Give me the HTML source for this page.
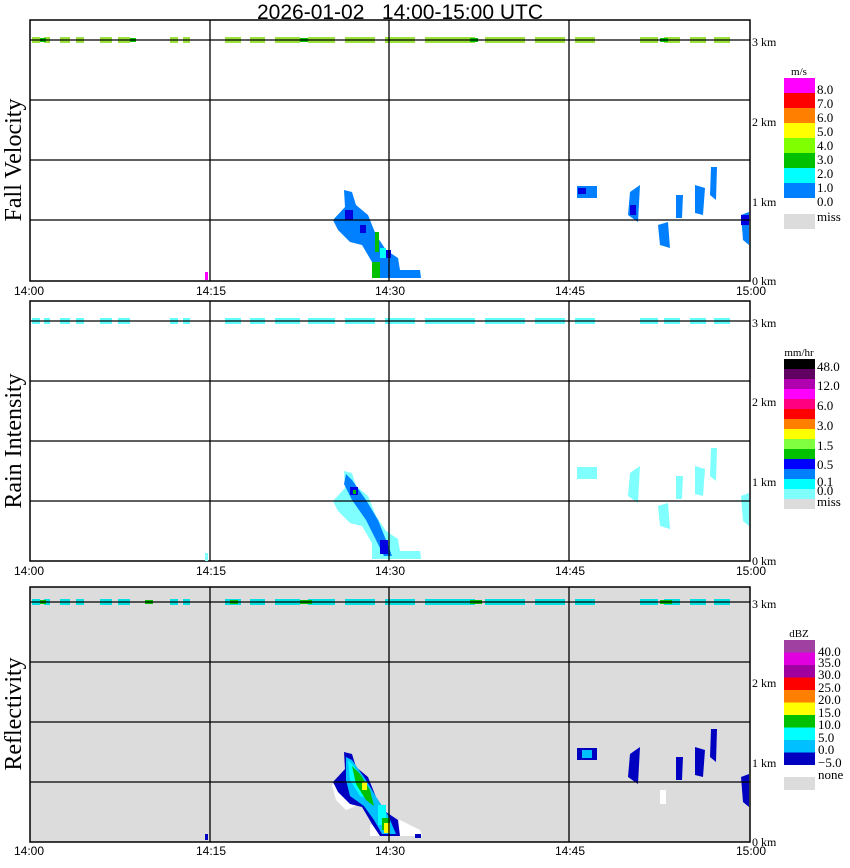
<!DOCTYPE html>
<html><head><meta charset="utf-8"><style>
body{margin:0;background:#fff}
svg{display:block}
text{font-family:"Liberation Serif",serif;font-size:12px;fill:#000}
.s{font-family:"Liberation Sans",sans-serif;font-size:12px}
.c{font-size:13px}
</style></head><body>
<svg width="850" height="868" xmlns="http://www.w3.org/2000/svg">
<text x="400" y="19" text-anchor="middle" xml:space="preserve" style="font-family:'Liberation Sans',sans-serif;font-size:21px;white-space:pre">2026-01-02   14:00-15:00 UTC</text>

<!-- Panel 1 -->
<g>
<rect x="30" y="20" width="720" height="261" fill="#fff" stroke="#000" stroke-width="1.5"/>
<g fill="#9be03c">
<rect x="32" y="37" width="8" height="6"/><rect x="44" y="37" width="6" height="6"/><rect x="60" y="37" width="10" height="6"/><rect x="76" y="37" width="8" height="6"/><rect x="100" y="37" width="12" height="6"/><rect x="118" y="37" width="12" height="6"/><rect x="170" y="37" width="8" height="6"/><rect x="183" y="37" width="7" height="6"/>
<rect x="225" y="37" width="16" height="6"/><rect x="250" y="37" width="15" height="6"/><rect x="275" y="37" width="25" height="6"/><rect x="308" y="37" width="27" height="6"/><rect x="345" y="37" width="30" height="6"/><rect x="385" y="37" width="30" height="6"/><rect x="425" y="37" width="50" height="6"/><rect x="485" y="37" width="40" height="6"/><rect x="535" y="37" width="30" height="6"/><rect x="575" y="37" width="20" height="6"/><rect x="640" y="37" width="18" height="6"/><rect x="664" y="37" width="16" height="6"/><rect x="690" y="37" width="16" height="6"/><rect x="714" y="37" width="16" height="6"/></g>
<g fill="#00c000"><rect x="40" y="38" width="6" height="4"/><rect x="130" y="38" width="6" height="4"/><rect x="300" y="38" width="8" height="4"/><rect x="470" y="38" width="8" height="4"/><rect x="660" y="38" width="8" height="4"/></g>
<g fill="#0080ff">
<polygon points="344,190 352,192 356,205 368,215 376,235 386,250 398,258 400,270 420,270 421,278 372,278 372,262 362,245 350,242 338,230 333,220 345,207"/>
<polygon points="577,186 597,186 597,198 577,198"/>
<polygon points="630,192 640,185 638,222 628,215"/>
<polygon points="658,225 668,222 670,248 660,245"/>
<polygon points="676,195 683,195 682,218 676,218"/>
<polygon points="695,185 705,188 703,215 695,213"/>
<polygon points="711,167 717,167 716,200 710,195"/>
<polygon points="741,215 749,212 749,245 743,240"/></g>
<g fill="#0000e0"><rect x="345" y="210" width="8" height="10"/><rect x="360" y="225" width="6" height="8"/><rect x="385" y="250" width="6" height="8"/><rect x="578" y="188" width="8" height="6"/><rect x="630" y="205" width="6" height="10"/><rect x="741" y="215" width="8" height="10"/></g>
<g fill="#00c000"><rect x="375" y="232" width="4" height="20"/><rect x="372" y="262" width="8" height="16"/></g>
<rect x="380" y="248" width="6" height="10" fill="#00ffff"/>
<rect x="205" y="272" width="3" height="8" fill="#ff00ff"/>
<g stroke="#000" stroke-width="1.3"><line x1="30" y1="40" x2="750" y2="40"/><line x1="30" y1="100" x2="750" y2="100"/><line x1="30" y1="160" x2="750" y2="160"/><line x1="30" y1="220" x2="750" y2="220"/>
<line x1="210" y1="20" x2="210" y2="281"/><line x1="389" y1="20" x2="389" y2="281"/><line x1="569" y1="20" x2="569" y2="281"/></g>
<text x="752" y="46">3 km</text><text x="752" y="126">2 km</text><text x="752" y="206">1 km</text><text x="752" y="285">0 km</text>
<text transform="translate(21,160) rotate(-90)" text-anchor="middle" style="font-size:24px">Fall Velocity</text>
<text class="s" x="14" y="295">14:00</text><text class="s" x="196" y="295">14:15</text><text class="s" x="375" y="295">14:30</text><text class="s" x="555" y="295">14:45</text><text class="s" x="736" y="295">15:00</text>
<text x="799" y="75" text-anchor="middle" style="font-size:11px">m/s</text>
<rect x="784" y="78" width="31" height="15" fill="#ff00ff"/><rect x="784" y="93" width="31" height="15" fill="#ff0000"/><rect x="784" y="108" width="31" height="15" fill="#ff8000"/><rect x="784" y="123" width="31" height="15" fill="#ffff00"/><rect x="784" y="138" width="31" height="15" fill="#80ff00"/><rect x="784" y="153" width="31" height="15" fill="#00c000"/><rect x="784" y="168" width="31" height="15" fill="#00ffff"/><rect x="784" y="183" width="31" height="15" fill="#0080ff"/>
<rect x="784" y="214" width="31" height="15" fill="#dcdcdc"/>
<g class="c"><text class="c" x="817" y="94">8.0</text><text class="c" x="817" y="108">7.0</text><text class="c" x="817" y="122">6.0</text><text class="c" x="817" y="136">5.0</text><text class="c" x="817" y="150">4.0</text><text class="c" x="817" y="164">3.0</text><text class="c" x="817" y="178">2.0</text><text class="c" x="817" y="192">1.0</text><text class="c" x="817" y="206">0.0</text><text class="c" x="817" y="221">miss</text></g>
</g>

<!-- Panel 2 -->
<g>
<rect x="30" y="301" width="720" height="260" fill="#fff" stroke="#000" stroke-width="1.5"/>
<g fill="#60ffff">
<rect x="32" y="318" width="8" height="6"/><rect x="44" y="318" width="6" height="6"/><rect x="60" y="318" width="10" height="6"/><rect x="76" y="318" width="8" height="6"/><rect x="100" y="318" width="12" height="6"/><rect x="118" y="318" width="12" height="6"/><rect x="170" y="318" width="8" height="6"/><rect x="183" y="318" width="7" height="6"/>
<rect x="225" y="318" width="16" height="6"/><rect x="250" y="318" width="15" height="6"/><rect x="275" y="318" width="25" height="6"/><rect x="308" y="318" width="27" height="6"/><rect x="345" y="318" width="30" height="6"/><rect x="385" y="318" width="30" height="6"/><rect x="425" y="318" width="50" height="6"/><rect x="485" y="318" width="40" height="6"/><rect x="535" y="318" width="30" height="6"/><rect x="575" y="318" width="20" height="6"/><rect x="640" y="318" width="18" height="6"/><rect x="664" y="318" width="16" height="6"/><rect x="690" y="318" width="16" height="6"/><rect x="714" y="318" width="16" height="6"/></g>
<g fill="#80ffff">
<polygon points="344,471 352,473 356,486 368,496 376,516 386,531 398,539 400,551 420,551 421,559 372,559 372,543 362,526 350,523 338,511 333,501 345,488"/>
<polygon points="577,467 597,467 597,479 577,479"/>
<polygon points="630,473 640,466 638,503 628,496"/>
<polygon points="658,506 668,503 670,529 660,526"/>
<polygon points="676,476 683,476 682,499 676,499"/>
<polygon points="695,466 705,469 703,496 695,494"/>
<polygon points="711,448 717,448 716,481 710,476"/>
<polygon points="741,496 749,493 749,526 743,521"/>
<rect x="205" y="553" width="3" height="8"/></g>
<g fill="#0080ff"><polygon points="346,474 352,480 366,500 378,520 386,540 392,556 384,556 376,540 366,520 352,500 344,484"/></g>
<g fill="#0000e0"><rect x="350" y="487" width="8" height="8"/><rect x="380" y="540" width="8" height="14"/></g>
<rect x="353" y="490" width="3" height="4" fill="#00c000"/>
<g stroke="#000" stroke-width="1.3"><line x1="30" y1="321" x2="750" y2="321"/><line x1="30" y1="381" x2="750" y2="381"/><line x1="30" y1="441" x2="750" y2="441"/><line x1="30" y1="501" x2="750" y2="501"/>
<line x1="210" y1="301" x2="210" y2="561"/><line x1="389" y1="301" x2="389" y2="561"/><line x1="569" y1="301" x2="569" y2="561"/></g>
<text x="752" y="327">3 km</text><text x="752" y="406">2 km</text><text x="752" y="486">1 km</text><text x="752" y="565">0 km</text>
<text transform="translate(21,441) rotate(-90)" text-anchor="middle" style="font-size:24px">Rain Intensity</text>
<text class="s" x="14" y="575">14:00</text><text class="s" x="196" y="575">14:15</text><text class="s" x="375" y="575">14:30</text><text class="s" x="555" y="575">14:45</text><text class="s" x="736" y="575">15:00</text>
<text x="799" y="356" text-anchor="middle" style="font-size:11px">mm/hr</text>
<rect x="784" y="359" width="31" height="10" fill="#000"/><rect x="784" y="369" width="31" height="10" fill="#600060"/><rect x="784" y="379" width="31" height="10" fill="#b000b0"/><rect x="784" y="389" width="31" height="10" fill="#ff00ff"/><rect x="784" y="399" width="31" height="10" fill="#ff0080"/><rect x="784" y="409" width="31" height="10" fill="#ff0000"/><rect x="784" y="419" width="31" height="10" fill="#ff8000"/><rect x="784" y="429" width="31" height="10" fill="#ffff00"/><rect x="784" y="439" width="31" height="10" fill="#80ff40"/><rect x="784" y="449" width="31" height="10" fill="#00c000"/><rect x="784" y="459" width="31" height="10" fill="#0000ff"/><rect x="784" y="469" width="31" height="10" fill="#0080ff"/><rect x="784" y="479" width="31" height="10" fill="#00ffff"/><rect x="784" y="489" width="31" height="10" fill="#80ffff"/>
<rect x="784" y="499" width="31" height="10" fill="#dcdcdc"/>
<text class="c" x="817" y="371">48.0</text><text class="c" x="817" y="390">12.0</text><text class="c" x="817" y="410">6.0</text><text class="c" x="817" y="430">3.0</text><text class="c" x="817" y="450">1.5</text><text class="c" x="817" y="469">0.5</text><text class="c" x="817" y="486">0.1</text><text class="c" x="817" y="495">0.0</text><text class="c" x="817" y="506">miss</text>
</g>

<!-- Panel 3 -->
<g>
<rect x="30" y="587" width="720" height="255" fill="#dcdcdc" stroke="#000" stroke-width="1.5"/>
<g fill="#00e0e0">
<rect x="32" y="599" width="8" height="6"/><rect x="44" y="599" width="6" height="6"/><rect x="60" y="599" width="10" height="6"/><rect x="76" y="599" width="8" height="6"/><rect x="100" y="599" width="12" height="6"/><rect x="118" y="599" width="12" height="6"/><rect x="170" y="599" width="8" height="6"/><rect x="183" y="599" width="7" height="6"/>
<rect x="225" y="599" width="16" height="6"/><rect x="250" y="599" width="15" height="6"/><rect x="275" y="599" width="25" height="6"/><rect x="308" y="599" width="27" height="6"/><rect x="345" y="599" width="30" height="6"/><rect x="385" y="599" width="30" height="6"/><rect x="425" y="599" width="50" height="6"/><rect x="485" y="599" width="40" height="6"/><rect x="535" y="599" width="30" height="6"/><rect x="575" y="599" width="20" height="6"/><rect x="640" y="599" width="18" height="6"/><rect x="664" y="599" width="16" height="6"/><rect x="690" y="599" width="16" height="6"/><rect x="714" y="599" width="16" height="6"/></g>
<g fill="#00c000"><rect x="40" y="600" width="6" height="4"/><rect x="145" y="600" width="8" height="4"/><rect x="230" y="600" width="8" height="4"/><rect x="300" y="600" width="12" height="4"/><rect x="470" y="600" width="12" height="4"/><rect x="660" y="600" width="12" height="4"/></g>
<g fill="#fff"><polygon points="332,785 340,780 346,800 356,806 346,810 336,800"/><polygon points="370,825 385,822 400,820 420,830 422,836 370,836"/><rect x="660" y="790" width="6" height="14"/></g>
<g fill="#0000c0">
<polygon points="344,752 352,754 356,767 368,777 376,797 386,812 398,820 400,836 380,836 372,824 362,807 350,804 338,792 333,782 345,769"/>
<polygon points="577,748 597,748 597,760 577,760"/>
<polygon points="630,754 640,747 638,784 628,777"/>
<polygon points="676,757 683,757 682,780 676,780"/>
<polygon points="695,747 705,750 703,777 695,775"/>
<polygon points="711,729 717,729 716,762 710,757"/>
<polygon points="741,777 749,774 749,807 743,802"/>
<rect x="205" y="834" width="3" height="6"/><rect x="415" y="834" width="6" height="4"/></g>
<g fill="#00c0ff"><polygon points="346,757 352,760 366,780 378,800 388,815 396,834 382,834 374,820 364,806 350,796 346,780"/><rect x="582" y="750" width="10" height="8"/></g>
<g fill="#00ffff"><polygon points="348,760 354,766 366,786 372,800 360,796 350,780"/><rect x="378" y="805" width="8" height="20"/></g>
<g fill="#00c000"><polygon points="352,766 360,774 370,790 374,806 366,800 356,784"/><rect x="382" y="818" width="8" height="12"/></g>
<g fill="#ffff00"><rect x="362" y="782" width="5" height="8"/><rect x="384" y="823" width="6" height="10"/></g>
<g stroke="#000" stroke-width="1.3"><line x1="30" y1="602" x2="750" y2="602"/><line x1="30" y1="662" x2="750" y2="662"/><line x1="30" y1="722" x2="750" y2="722"/><line x1="30" y1="782" x2="750" y2="782"/>
<line x1="210" y1="587" x2="210" y2="842"/><line x1="389" y1="587" x2="389" y2="842"/><line x1="569" y1="587" x2="569" y2="842"/></g>
<text x="752" y="608">3 km</text><text x="752" y="687">2 km</text><text x="752" y="767">1 km</text><text x="752" y="846">0 km</text>
<text transform="translate(21,714) rotate(-90)" text-anchor="middle" style="font-size:24px">Reflectivity</text>
<text class="s" x="14" y="855">14:00</text><text class="s" x="196" y="855">14:15</text><text class="s" x="375" y="855">14:30</text><text class="s" x="555" y="855">14:45</text><text class="s" x="736" y="855">15:00</text>
<text x="799" y="637" text-anchor="middle" style="font-size:11px">dBZ</text>
<rect x="784" y="640" width="31" height="12.5" fill="#a040a0"/><rect x="784" y="652.5" width="31" height="12.5" fill="#e000e0"/><rect x="784" y="665" width="31" height="12.5" fill="#a000a0"/><rect x="784" y="677.5" width="31" height="12.5" fill="#ff0000"/><rect x="784" y="690" width="31" height="12.5" fill="#ff8000"/><rect x="784" y="702.5" width="31" height="12.5" fill="#ffff00"/><rect x="784" y="715" width="31" height="12.5" fill="#00c000"/><rect x="784" y="727.5" width="31" height="12.5" fill="#00ffff"/><rect x="784" y="740" width="31" height="12.5" fill="#00c0ff"/><rect x="784" y="752.5" width="31" height="12.5" fill="#0000c0"/>
<rect x="784" y="777" width="31" height="13" fill="#dcdcdc"/>
<text class="c" x="818" y="656">40.0</text><text class="c" x="818" y="667">35.0</text><text class="c" x="818" y="679">30.0</text><text class="c" x="818" y="692">25.0</text><text class="c" x="818" y="704">20.0</text><text class="c" x="818" y="717">15.0</text><text class="c" x="818" y="729">10.0</text><text class="c" x="818" y="742">5.0</text><text class="c" x="818" y="754">0.0</text><text class="c" x="818" y="767">−5.0</text><text class="c" x="818" y="779">none</text>
</g>
</svg>
</body></html>
